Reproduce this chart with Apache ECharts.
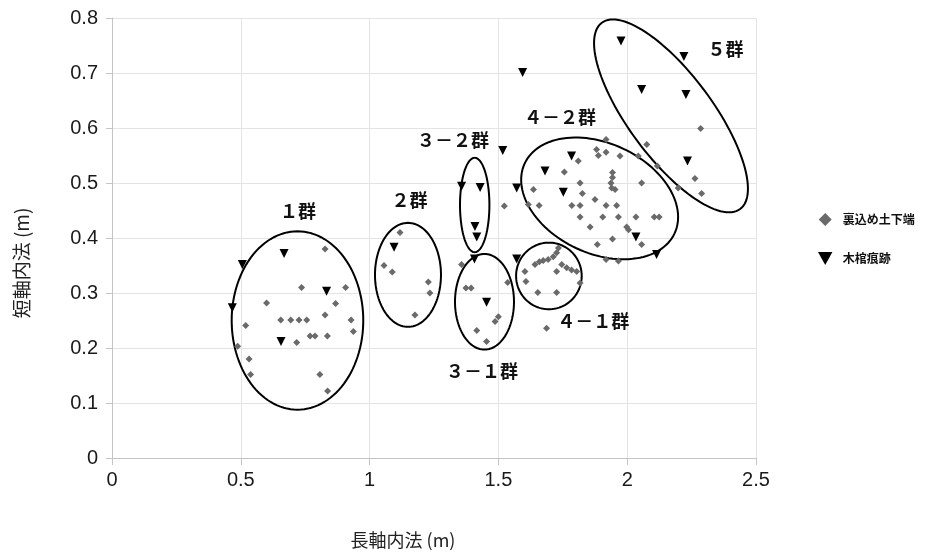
<!DOCTYPE html>
<html><head><meta charset="utf-8">
<script src="https://cdn.jsdelivr.net/npm/echarts@6/dist/echarts.min.js"></script>
<style>html,body{margin:0;padding:0;background:#fff}#c{width:930px;height:557px}</style>
</head><body><div id="c"></div>
<script>
// ---- data ----
const seriesNames = ['裏込め土下端', '木棺痕跡'];
const xAxisTitle = '長軸内法 (m)';
const yAxisTitle = '短軸内法 (m)';

// 裏込め土下端 (diamonds)
const fillX = [
  0.827,0.736,0.907,0.600,0.868,0.827,0.655,0.694,0.726,0.756,0.928,0.519,0.937,0.769,0.788,0.836,0.717,0.488,0.532,0.538,0.807,0.837,
  1.118,1.056,1.088,1.228,1.234,1.176,
  1.523,
  1.357,1.374,1.394,1.536,1.500,1.487,1.416,1.454,
  1.733,1.726,1.713,1.693,1.674,1.659,1.642,1.603,1.746,1.765,1.784,1.804,1.726,1.817,1.607,1.653,1.726,1.687,
  1.918,2.076,1.810,1.881,1.888,1.918,1.972,2.043,1.756,1.943,1.943,1.937,1.940,1.953,1.817,2.056,1.636,1.826,1.875,
  1.616,1.658,1.785,1.817,1.918,1.959,1.817,1.905,1.966,2.034,2.105,2.124,1.856,1.998,2.005,1.943,1.884,2.056,1.918,1.966,
  2.285,2.117,2.263,2.289,2.198
];
const fillY = [
  0.380,0.310,0.310,0.282,0.281,0.260,0.251,0.251,0.251,0.251,0.251,0.241,0.230,0.222,0.222,0.222,0.210,0.203,0.180,0.152,0.152,0.122,
  0.410,0.350,0.338,0.320,0.300,0.260,
  0.458,
  0.352,0.309,0.309,0.319,0.257,0.248,0.232,0.212,
  0.382,0.373,0.366,0.361,0.359,0.357,0.352,0.339,0.352,0.346,0.342,0.339,0.339,0.318,0.321,0.301,0.301,0.236,
  0.579,0.570,0.540,0.561,0.550,0.556,0.549,0.549,0.520,0.519,0.510,0.500,0.491,0.488,0.500,0.500,0.488,0.481,0.470,
  0.461,0.459,0.459,0.459,0.459,0.459,0.438,0.438,0.438,0.438,0.438,0.438,0.420,0.420,0.415,0.398,0.388,0.388,0.361,0.358,
  0.599,0.531,0.508,0.481,0.491
];

// 木棺痕跡 (downward triangles)
const coffinX = [0.668,0.506,0.467,0.833,0.656, 1.095, 1.357,1.429,1.409,1.416,1.517,1.571, 1.407,1.454, 1.571, 1.594,
  1.784,1.681,1.752,2.034,2.114, 1.976,2.220,2.056,2.228,2.234];
const coffinY = [0.372,0.352,0.273,0.303,0.212, 0.383, 0.494,0.492,0.421,0.402,0.559,0.491, 0.362,0.283, 0.362, 0.701,
  0.549,0.522,0.483,0.402,0.370, 0.758,0.730,0.670,0.661,0.540];

// group labels
const groupNames = ['１群', '２群', '３－２群', '３－１群', '４－２群', '４－１群', '５群'];
const groupX = [0.722, 1.155, 1.324, 1.436, 1.739, 1.868, 2.382];
const groupY = [0.448, 0.468, 0.578, 0.158, 0.619, 0.248, 0.743];

// group outline ellipses: centre (data units)
const ellipseCX = [0.720, 1.149, 1.408, 1.446, 1.696, 1.893, 2.170];
const ellipseCY = [0.250, 0.333, 0.460, 0.284, 0.331, 0.472, 0.622];
// annotation geometry (pixels / degrees)
const ellipseShape = [[65.8,89.2,0],[33,52,0],[14.7,47.2,0],[29.5,47.8,0],[32.8,33.3,0],[82.7,55,25],[116,42,53.4]];

// ---- chart ----
const NUM = "'Liberation Sans', Arial, 'Noto Sans CJK JP', sans-serif";
const CJK = "'Noto Sans CJK JP', sans-serif";
const chart = echarts.init(document.getElementById('c'));

const option = {
  animation: false,
  backgroundColor: '#fff',
  grid: { left: 112, right: 174, top: 18, bottom: 99 },
  xAxis: {
    type: 'value', min: 0, max: 2.5, interval: 0.5,
    axisLine: { show: true, onZero: false, lineStyle: { color: '#c4c4c4', width: 1 } },
    axisTick: { show: true, length: 7, lineStyle: { color: '#c4c4c4' } },
    axisLabel: { fontSize: 20, color: '#1a1a1a', margin: 12, fontFamily: NUM },
    splitLine: { show: true, lineStyle: { color: '#e4e4e4', width: 1 } }
  },
  yAxis: {
    type: 'value', min: 0, max: 0.8, interval: 0.1,
    axisLine: { show: true, onZero: false, lineStyle: { color: '#c4c4c4', width: 1 } },
    axisTick: { show: true, length: 6, lineStyle: { color: '#c4c4c4' } },
    axisLabel: { fontSize: 20, color: '#1a1a1a', margin: 14, fontFamily: NUM },
    splitLine: { show: true, lineStyle: { color: '#e4e4e4', width: 1 } }
  },
  legend: {
    orient: 'vertical', left: 813, top: 208, itemGap: 26,
    itemWidth: 25, itemHeight: 13, symbolKeepAspect: true,
    data: [
      { name: seriesNames[0], icon: 'path://M5,0L10,5L5,10L0,5Z' },
      { name: seriesNames[1], icon: 'path://M0,0L10,0L5,9Z' }
    ],
    textStyle: { fontSize: 12, fontWeight: 'bold', color: '#111', fontFamily: CJK }
  },
  graphic: [
    { type: 'text', x: 403, y: 540, silent: true,
      style: { text: xAxisTitle, font: '18px ' + CJK, fill: '#222', align: 'center', verticalAlign: 'middle', textAlign: 'center', textVerticalAlign: 'middle' } },
    { type: 'text', x: 22, y: 263, rotation: Math.PI / 2, silent: true,
      style: { text: yAxisTitle, font: '19px ' + CJK, fill: '#222', align: 'center', verticalAlign: 'middle', textAlign: 'center', textVerticalAlign: 'middle' } }
  ],
  series: [
    {
      type: 'custom', name: 'outlines', silent: true, z: 3,
      encode: { x: 0, y: 1 },
      data: ellipseCX.map((x, i) => [x, ellipseCY[i]]),
      renderItem: function (p, api) {
        const c = api.coord([api.value(0), api.value(1)]);
        const s = ellipseShape[p.dataIndex];
        const a = s[0], b = s[1], th = s[2] * Math.PI / 180;
        const pts = [];
        for (let k = 0; k < 120; k++) {
          const t = k / 120 * 2 * Math.PI;
          const ex = a * Math.cos(t), ey = b * Math.sin(t);
          pts.push([c[0] + ex * Math.cos(th) - ey * Math.sin(th), c[1] + ex * Math.sin(th) + ey * Math.cos(th)]);
        }
        return { type: 'polygon', shape: { points: pts }, style: { fill: 'none', stroke: '#000', lineWidth: 2 } };
      }
    },
    {
      type: 'scatter', name: seriesNames[0], symbol: 'diamond', symbolSize: 7, z: 4,
      itemStyle: { color: '#6a6a6a', opacity: 1 },
      data: fillX.map((x, i) => [x, fillY[i]])
    },
    {
      type: 'scatter', name: seriesNames[1], symbol: 'triangle', symbolRotate: 180, symbolSize: 9, z: 5,
      itemStyle: { color: '#000', opacity: 1 },
      data: coffinX.map((x, i) => [x, coffinY[i]])
    },
    {
      type: 'custom', name: 'groupLabels', silent: true, z: 6,
      encode: { x: 0, y: 1 },
      data: groupX.map((x, i) => [x, groupY[i]]),
      renderItem: function (p, api) {
        const c = api.coord([api.value(0), api.value(1)]);
        return { type: 'text', x: c[0], y: c[1],
          style: { text: groupNames[p.dataIndex], font: 'bold 18px ' + CJK, fill: '#111',
            align: 'center', verticalAlign: 'middle', textAlign: 'center', textVerticalAlign: 'middle' } };
      }
    }
  ]
};
chart.setOption(option);
</script>
</body></html>
